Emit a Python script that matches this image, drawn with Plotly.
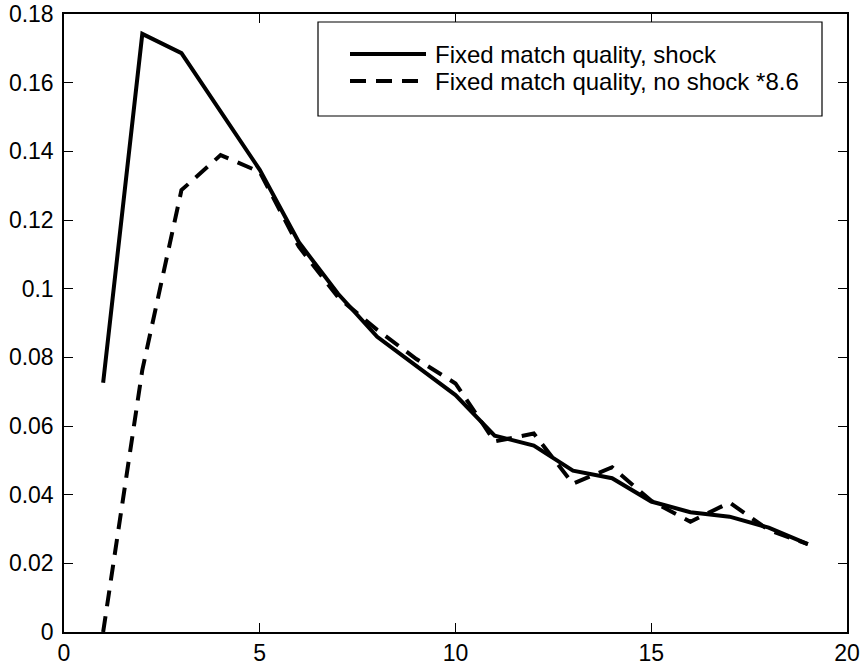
import plotly.graph_objects as go

# ---- data ----
periods = list(range(1, 20))
shock = [0.0726, 0.1742, 0.1686, 0.1517, 0.1346, 0.1135, 0.0985, 0.0860, 0.0775,
         0.0690, 0.0572, 0.0543, 0.0470, 0.0448, 0.0380, 0.0349, 0.0336, 0.0304, 0.0256]
no_shock = [0.0000, 0.0763, 0.1287, 0.1389, 0.1340, 0.1122, 0.0975, 0.0880, 0.0795,
            0.0724, 0.0555, 0.0578, 0.0432, 0.0480, 0.0382, 0.0321, 0.0377, 0.0297, 0.0256]
names = ["Fixed match quality, shock", "Fixed match quality, no shock *8.6"]
x_ticks = [0, 5, 10, 15, 20]
y_ticks = [0, 0.02, 0.04, 0.06, 0.08, 0.1, 0.12, 0.14, 0.16, 0.18]
y_tick_text = ["0", "0.02", "0.04", "0.06", "0.08", "0.1", "0.12", "0.14", "0.16", "0.18"]

FONT = "Liberation Sans, Arial, Helvetica, sans-serif"
DASH = "16px,10px"

fig = go.Figure()
fig.add_trace(go.Scatter(x=periods, y=shock, mode="lines", name=names[0],
                         line=dict(color="black", width=4), showlegend=False))
fig.add_trace(go.Scatter(x=periods, y=no_shock, mode="lines", name=names[1],
                         line=dict(color="black", width=4, dash=DASH), showlegend=False))

W, H = 864, 672
L, R, T, B = 64, 17, 14, 40
pw, ph = W - L - R, H - T - B

def px(xp):
    return (xp - L) / pw

def py(yp):
    return (H - B - yp) / ph

# manual legend (box, samples, text)
box = dict(x0=318, x1=822, y0=22, y1=116)
fig.add_shape(type="rect", xref="paper", yref="paper",
              x0=px(box["x0"]), x1=px(box["x1"]), y0=py(box["y1"]), y1=py(box["y0"]),
              line=dict(color="black", width=1.2), fillcolor="white", layer="above")
rows = [54, 81]
styles = ["solid", DASH]
for nm, yy, st in zip(names, rows, styles):
    fig.add_shape(type="line", xref="paper", yref="paper",
                  x0=px(350), x1=px(426), y0=py(yy), y1=py(yy),
                  line=dict(color="black", width=4, dash=st), layer="above")
    fig.add_annotation(xref="paper", yref="paper", x=px(433), y=py(yy),
                       text=nm, showarrow=False, xanchor="left", yanchor="middle",
                       font=dict(family=FONT, size=24, color="black"))

axis_common = dict(showline=True, linecolor="black", linewidth=1.5, mirror="ticks",
                   ticks="inside", ticklen=9, tickwidth=1, tickcolor="black",
                   showgrid=False, zeroline=False, automargin=False,
                   tickfont=dict(family=FONT, size=23, color="black"))
fig.update_xaxes(range=[0, 20], tickvals=x_ticks, ticktext=[str(v) for v in x_ticks],
                 ticklabelstandoff=0, **axis_common)
fig.update_yaxes(range=[0, 0.18], tickvals=y_ticks, ticktext=y_tick_text,
                 ticklabelstandoff=4, **axis_common)

fig.update_layout(width=W, height=H, margin=dict(l=L, r=R, t=T, b=B),
                  paper_bgcolor="white", plot_bgcolor="white",
                  font=dict(family=FONT, color="black"))
fig.write_html("out.html")
